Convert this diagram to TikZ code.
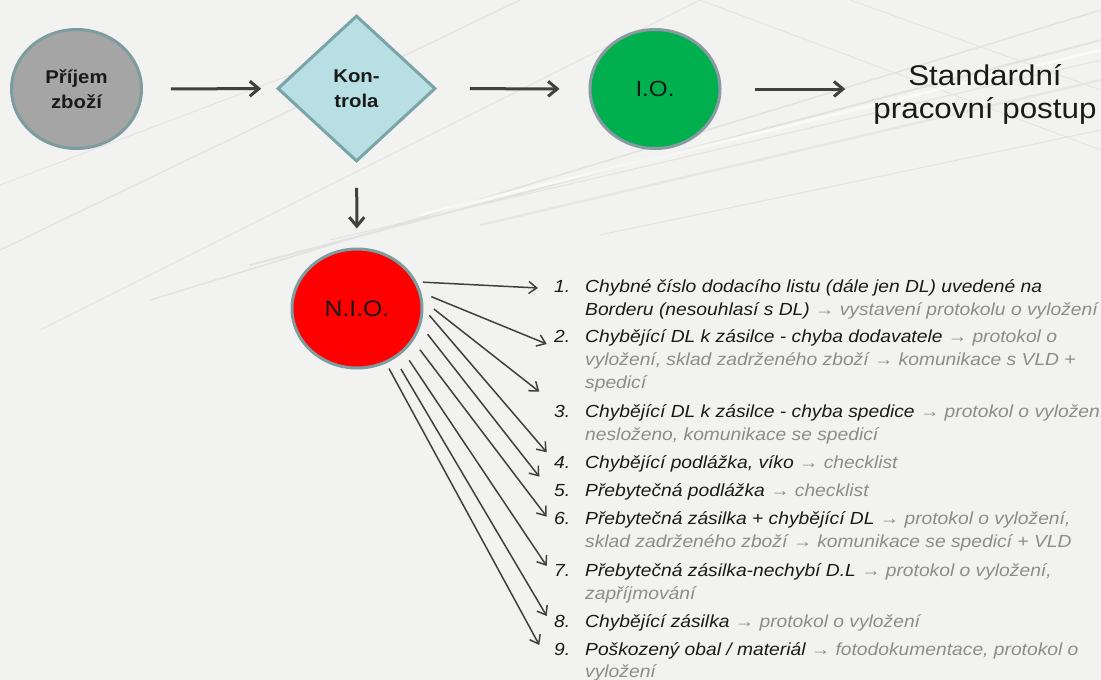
\documentclass[tikz,border=0pt]{standalone}
\usepackage{fontspec}
\setmainfont{Liberation Sans}[FakeStretch=1.1]
\usetikzlibrary{shapes.geometric,arrows.meta}

\definecolor{bgcol}{HTML}{F2F2F0}
\definecolor{streakcol}{HTML}{E2E2E1}
\definecolor{txtgray}{HTML}{8C8C8C}
\definecolor{txtdark}{HTML}{1A1A1A}
\definecolor{arrowcol}{HTML}{404040}
\definecolor{rimcol}{HTML}{7C9CA0}
\definecolor{prijemfill}{HTML}{A5A5A5}
\definecolor{kontrolafill}{HTML}{B8E0E4}
\definecolor{kontrolarim}{HTML}{7BA4A8}
\definecolor{iofill}{HTML}{00B04F}
\definecolor{iorim}{HTML}{8A9AA2}
\definecolor{niofill}{HTML}{FF0000}

\newcommand\graypart[1]{\textcolor{txtgray}{#1}}

\tikzset{
  streak/.style={streakcol, line width=#1},
  streak/.default=1,
  bubble/.style={ellipse, draw=rimcol, line width=3, minimum width=130,
    minimum height=119, inner sep=0, align=center, text=txtdark},
  flowarrow/.style={arrowcol, line width=3,
    -{Straight Barb[length=9, width=15]}},
  branch/.style={arrowcol, line width=1.5,
    -{Straight Barb[length=8, width=12]}},
  listnum/.style={anchor=base west, inner sep=0, text=txtdark,
    font=\fontsize{17.5}{23}\selectfont\itshape},
  listline/.style={anchor=base west, inner sep=0, text=txtdark,
    font=\fontsize{17.5}{23}\selectfont\itshape},
}

\begin{document}
\begin{tikzpicture}[x=1pt, y=-1pt]
  \useasboundingbox (0,0) rectangle (1101,680);
  \clip (0,0) rectangle (1101,680);
  \fill[bgcol] (0,0) rectangle (1101,680);

  % faint background streaks
  \draw[streak=1.2] (0,250) -- (520,0);
  \draw[streak=0.8] (0,185) -- (330,60);
  \draw[streak=1.0] (40,330) -- (700,0);
  \draw[streak=1.5] (150,300) -- (1101,10);
  \draw[streak=2.0] (250,265) -- (1101,40);
  \draw[streak=1.0] (330,240) -- (1101,60);
  \draw[streak=2.5, opacity=0.7] (480,225) -- (1101,80);
  \draw[streak=1.0] (600,235) -- (1101,130);
  \draw[streak=0.8] (700,0) -- (1101,150);
  \draw[streak=0.8] (850,0) -- (1101,90);
  \draw[white, line width=3, opacity=0.6] (420,215) -- (1101,50);

  % main flow
  \node[bubble, fill=prijemfill, font=\fontsize{18.5}{25}\selectfont\bfseries]
    (prijem) at (76.5,89) {Příjem\\zboží};
  \node[diamond, draw=kontrolarim, fill=kontrolafill, line width=3,
    minimum width=158, minimum height=146, inner sep=0, align=center,
    text=txtdark, font=\fontsize{18.5}{25}\selectfont\bfseries]
    (kontrola) at (356.5,88.5) {Kon-\\trola};
  \node[bubble, draw=iorim, fill=iofill, font=\fontsize{22}{26}\selectfont]
    (io) at (655,89) {I.O.};
  \node[align=center, inner sep=0, text=txtdark,
    font=\fontsize{28.5}{33}\selectfont]
    (std) at (985,94) {Standardní\\pracovní postup};
  \node[bubble, fill=niofill, font=\fontsize{22.5}{26}\selectfont]
    (nio) at (357,308.5) {N.I.O.};

  \draw[flowarrow, shorten <=28, shorten >=15] (prijem) -- (kontrola);
  \draw[flowarrow, shorten <=33, shorten >=29] (kontrola) -- (io);
  \draw[flowarrow, shorten <=33, shorten >=28] (io) -- (std.west |- io);
  \draw[flowarrow, shorten <=25, shorten >=19] (kontrola) -- (nio);

  % list of deviations
  \node[listnum] (n1) at (554,292) {1.};
  \node[listline] (l1a) at (585,292) {Chybné číslo dodacího listu (dále jen DL) uvedené na};
  \node[listline] (l1b) at (585,315) {Borderu (nesouhlasí s DL) \graypart{→ vystavení protokolu o vyložení}};
  \node[listnum] (n2) at (554,342) {2.};
  \node[listline] (l2a) at (585,342) {Chybějící DL k zásilce - chyba dodavatele \graypart{→ protokol o}};
  \node[listline] (l2b) at (585,365) {\graypart{vyložení, sklad zadrženého zboží → komunikace s VLD +}};
  \node[listline] (l2c) at (585,388) {\graypart{spedicí}};
  \node[listnum] (n3) at (554,417) {3.};
  \node[listline] (l3a) at (585,417) {Chybějící DL k zásilce - chyba spedice \graypart{→ protokol o vyložení,}};
  \node[listline] (l3b) at (585,440) {\graypart{nesloženo, komunikace se spedicí}};
  \node[listnum] (n4) at (554,468) {4.};
  \node[listline] (l4a) at (585,468) {Chybějící podlážka, víko \graypart{→ checklist}};
  \node[listnum] (n5) at (554,496) {5.};
  \node[listline] (l5a) at (585,496) {Přebytečná podlážka \graypart{→ checklist}};
  \node[listnum] (n6) at (554,524) {6.};
  \node[listline] (l6a) at (585,524) {Přebytečná zásilka + chybějící DL \graypart{→ protokol o vyložení,}};
  \node[listline] (l6b) at (585,547) {\graypart{sklad zadrženého zboží → komunikace se spedicí + VLD}};
  \node[listnum] (n7) at (554,576) {7.};
  \node[listline] (l7a) at (585,576) {Přebytečná zásilka-nechybí D.L \graypart{→ protokol o vyložení,}};
  \node[listline] (l7b) at (585,599) {\graypart{zapříjmování}};
  \node[listnum] (n8) at (554,627) {8.};
  \node[listline] (l8a) at (585,627) {Chybějící zásilka \graypart{→ protokol o vyložení}};
  \node[listnum] (n9) at (554,655) {9.};
  \node[listline] (l9a) at (585,655) {Poškozený obal / materiál \graypart{→ fotodokumentace, protokol o}};
  \node[listline] (l9b) at (585,677) {\graypart{vyložení}};

  % arrow tips beside the numbers
  \coordinate (t1) at (538,288);
  \coordinate (t2) at (546.7,344);
  \coordinate (t3) at (539.3,391.7);
  \coordinate (t4) at (546.7,452.3);
  \coordinate (t5) at (539.3,476.7);
  \coordinate (t6) at (546.7,516.7);
  \coordinate (t7) at (546.7,566);
  \coordinate (t8) at (546.7,616);
  \coordinate (t9) at (539.3,645);

  \draw[branch, shorten <=6] (nio.24) -- (t1);
  \draw[branch, shorten <=11] (nio.14) -- (t2);
  \draw[branch, shorten <=14] (nio.7) -- (t3);
  \draw[branch, shorten <=9] (nio.0) -- (t4);
  \draw[branch, shorten <=11] (nio.-15) -- (t5);
  \draw[branch, shorten <=11] (nio.-30) -- (t6);
  \draw[branch, shorten <=10] (nio.-43) -- (t7);
  \draw[branch, shorten <=12] (nio.-53) -- (t8);
  \draw[branch, shorten <=6] (nio.-62) -- (t9);
\end{tikzpicture}
\end{document}
